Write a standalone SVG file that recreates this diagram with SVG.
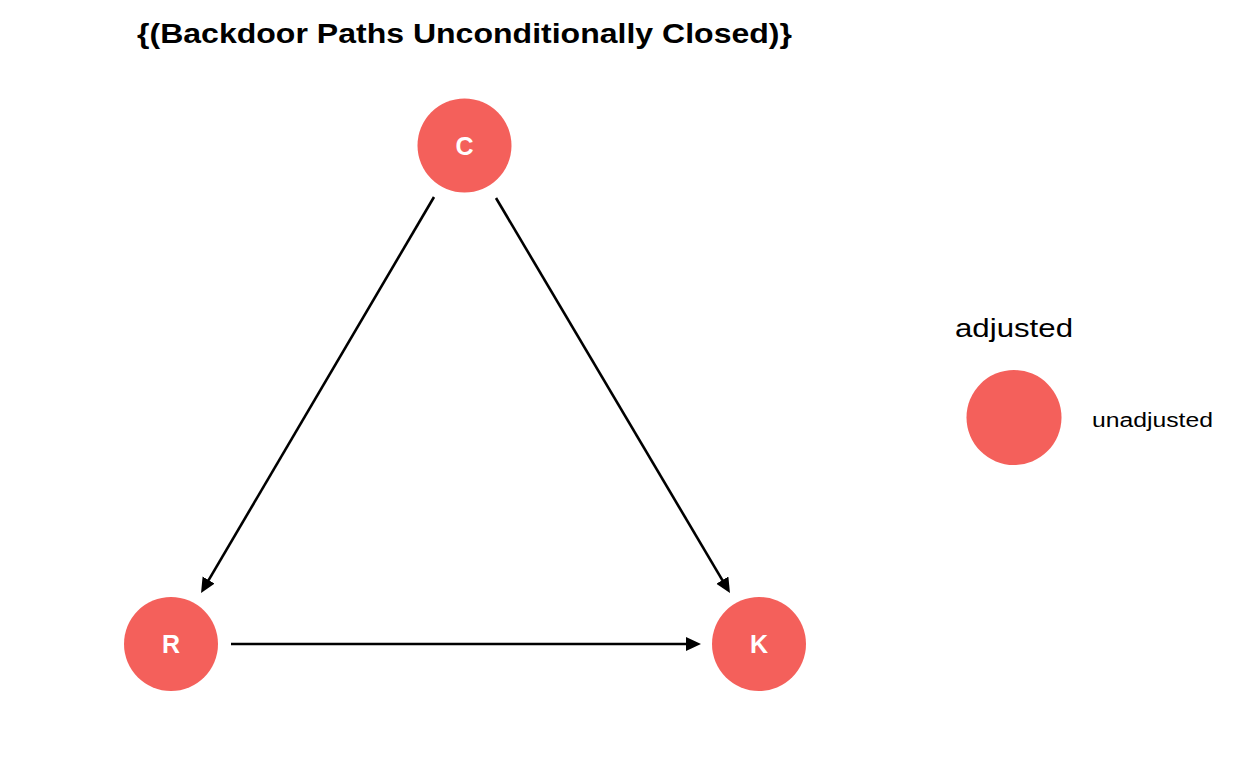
<svg xmlns="http://www.w3.org/2000/svg" width="1248" height="768" viewBox="0 0 1248 768">
<defs>
<style>
.node{fill:#F4605B;}
.lbl{font-family:"Liberation Sans",Arial,sans-serif;font-weight:bold;font-size:25px;fill:#ffffff;text-anchor:middle;}
.edge{stroke:#000000;stroke-width:2.6;fill:none;marker-end:url(#arr);}
.title{font-family:"Liberation Sans",Arial,sans-serif;font-weight:bold;font-size:28px;fill:#000000;}
.leg{font-family:"Liberation Sans",Arial,sans-serif;fill:#000000;}
</style>
<marker id="arr" markerUnits="userSpaceOnUse" markerWidth="16" markerHeight="15" refX="7" refY="7" orient="auto">
<path d="M0,0 L15,7 L0,14 z" fill="#000000"/>
</marker>
</defs>
<rect width="1248" height="768" fill="#ffffff"/>
<text class="title" x="137" y="43" textLength="655" lengthAdjust="spacingAndGlyphs">{(Backdoor Paths Unconditionally Closed)}</text>
<g id="connectors">
<line class="edge" x1="434" y1="197" x2="205.1" y2="586.1"/>
<line class="edge" x1="496" y1="198" x2="725.9" y2="586.1"/>
<line class="edge" x1="231" y1="644" x2="693" y2="644"/>
</g>
<g id="node-C">
<circle class="node" cx="464.5" cy="145.5" r="47"/>
<text class="lbl" x="464.5" y="154.5">C</text>
</g>
<g id="node-R">
<circle class="node" cx="171" cy="644" r="47"/>
<text class="lbl" x="171" y="653">R</text>
</g>
<g id="node-K">
<circle class="node" cx="759" cy="644" r="47"/>
<text class="lbl" x="759" y="653">K</text>
</g>
<g id="legend">
<text class="leg" x="955" y="337" font-size="26" textLength="118" lengthAdjust="spacingAndGlyphs">adjusted</text>
<circle class="node" cx="1014" cy="417.5" r="47.5"/>
<text class="leg" x="1092" y="427" font-size="20" textLength="121" lengthAdjust="spacingAndGlyphs">unadjusted</text>
</g>
</svg>
